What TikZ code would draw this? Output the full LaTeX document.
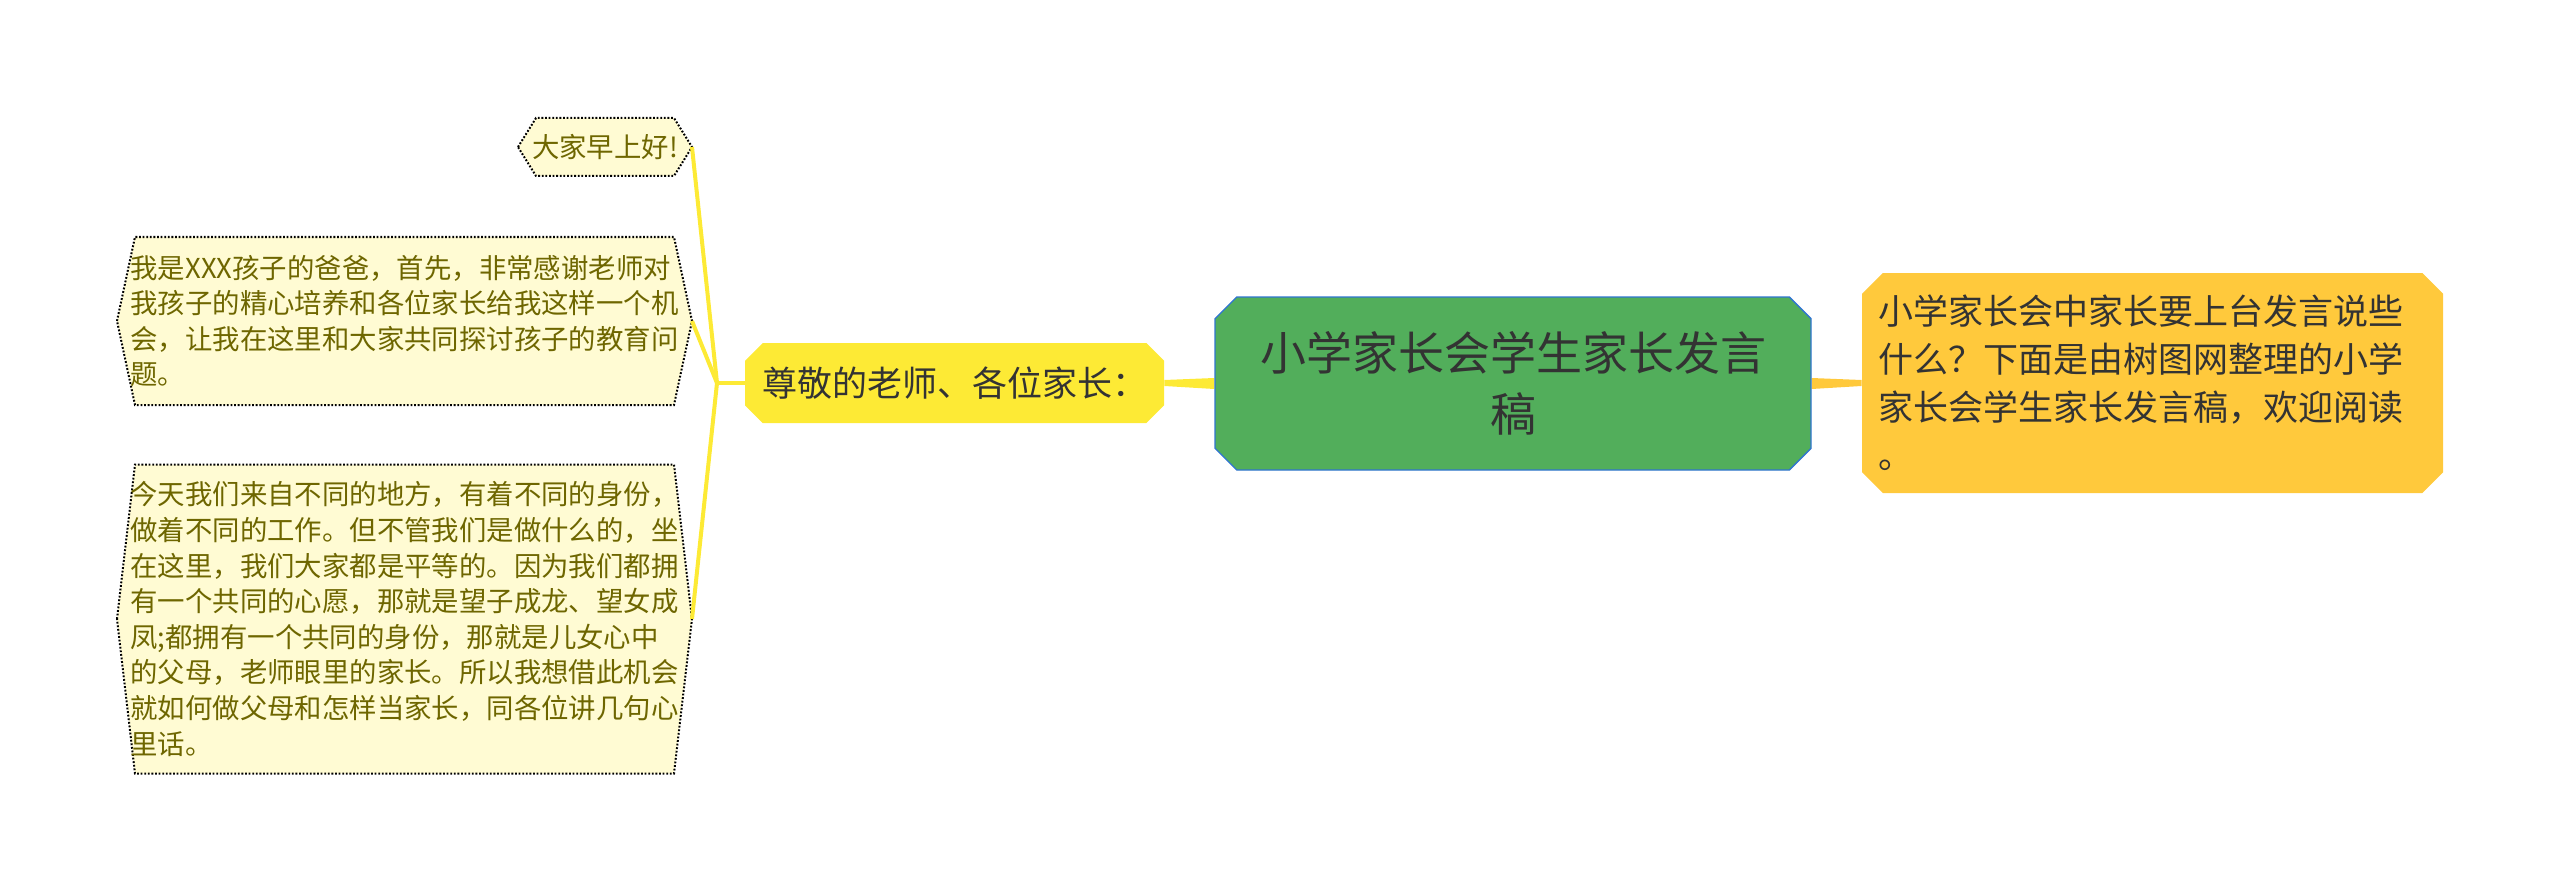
\documentclass[tikz,border=0pt]{standalone}
\usepackage{fontspec}
\newfontfamily\cjk{Noto Sans CJK SC}
\usetikzlibrary{shapes.misc,calc,backgrounds}

\definecolor{titlegreen}{HTML}{52AE5B}
\definecolor{titleedge}{HTML}{2F74D0}
\definecolor{introorange}{HTML}{FFC93C}
\definecolor{greetyellow}{HTML}{FDEA35}
\definecolor{notefill}{HTML}{FFFBD3}
\definecolor{notetext}{HTML}{6E6600}
\definecolor{darktext}{HTML}{333333}

% hexagon frame behind a note node: name, half width, half height (px)
\newcommand\notehex[3]{%
  \filldraw[notebox] ($(#1.center)+(-#2,0)$) -- ++(18,#3) -- ($(#1.center)+(#2-18,#3)$)
    -- ++(18,-#3) -- ++(-18,-#3) -- ($(#1.center)+(-#2+18,-#3)$) -- cycle;
  \coordinate (#1 tip) at ($(#1.center)+(#2,0)$);}

\begin{document}
\begin{tikzpicture}[x=0.5pt,y=0.5pt,
    box/.style={chamfered rectangle, inner sep=0pt, text=darktext},
    title/.style={box, chamfered rectangle xsep=8pt, fill=titlegreen, draw=titleedge,
                  line width=0.7pt, minimum width=298pt, minimum height=86.5pt,
                  align=center, font=\cjk\fontsize{23}{30.5}\selectfont},
    intro/.style={box, chamfered rectangle xsep=7.5pt, fill=introorange,
                  minimum width=290.5pt, minimum height=110pt, text width=274pt,
                  align=left, font=\cjk\fontsize{17.5}{24}\selectfont},
    greet/.style={box, chamfered rectangle xsep=6pt, fill=greetyellow,
                  minimum width=209.5pt, minimum height=40pt,
                  font=\cjk\fontsize{17.5}{21}\selectfont},
    note/.style={inner sep=0pt, align=left, text=notetext,
                 font=\cjk\fontsize{13.7}{17.8}\selectfont},
    notebox/.style={fill=notefill, draw=black, line width=1pt,
                    dash pattern=on 0.9pt off 0.9pt},
    branch/.style={draw=greetyellow, line width=2pt}]

  \useasboundingbox (0,0) rectangle (2560,891);

  \node[title] (title) at (1513,507.5) {小学家长会学生家长发言\\稿};
  \node[intro] (intro) at (2152.5,508)
    {小学家长会中家长要上台发言说些\\什么？下面是由树图网整理的小学\\家长会学生家长发言稿，欢迎阅读\\。};
  \node[greet] (greet) at (954.5,508) {尊敬的老师、各位家长：};

  \node[note] (hello) at (605,744) {大家早上好!};
  \node[note] (thanks) at (404.5,570)
    {我是XXX孩子的爸爸，首先，非常感谢老师对\\我孩子的精心培养和各位家长给我这样一个机\\会，让我在这里和大家共同探讨孩子的教育问\\题。};
  \node[note] (equal) at (404.5,272)
    {今天我们来自不同的地方，有着不同的身份，\\做着不同的工作。但不管我们是做什么的，坐\\在这里，我们大家都是平等的。因为我们都拥\\有一个共同的心愿，那就是望子成龙、望女成\\凤;都拥有一个共同的身份，那就是儿女心中\\的父母，老师眼里的家长。所以我想借此机会\\就如何做父母和怎样当家长，同各位讲几句心\\里话。};

  \begin{scope}[on background layer]
    \notehex{hello}{87}{29}
    \notehex{thanks}{287.5}{84}
    \notehex{equal}{287.5}{154.5}
    % tapered links from the title
    \fill[greetyellow] ([yshift=2.75pt]title.west) -- ([yshift=1.5pt]greet.east)
      -- ([yshift=-1.5pt]greet.east) -- ([yshift=-2.75pt]title.west) -- cycle;
    \fill[introorange] ([yshift=2.75pt]title.east) -- ([yshift=1.5pt]intro.west)
      -- ([yshift=-1.5pt]intro.west) -- ([yshift=-2.75pt]title.east) -- cycle;
  \end{scope}

  \coordinate (fork) at (717,508);
  \draw[branch] (greet.west) -- (fork);
  \foreach \n in {hello,thanks,equal}
    \draw[branch] (fork) -- (\n\space tip);
\end{tikzpicture}
\end{document}
